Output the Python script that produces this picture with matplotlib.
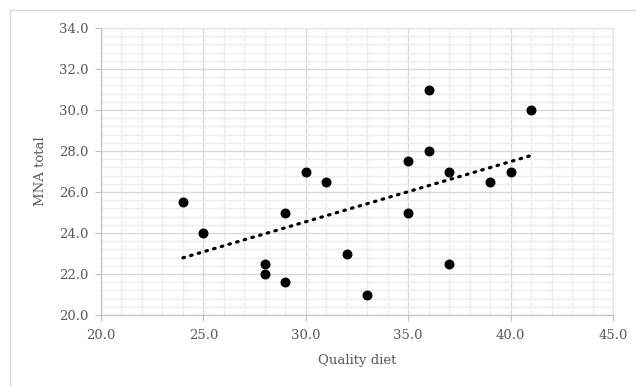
import numpy as np
import matplotlib.pyplot as plt
from matplotlib.patches import Rectangle
from matplotlib.ticker import MultipleLocator, FormatStrFormatter

# values
quality_diet = [24, 25, 28, 28, 29, 29, 30, 31, 32, 33, 35, 35, 36, 36, 37, 37, 39, 40, 41]
mna_total = [25.5, 24.0, 22.5, 22.0, 25.0, 21.6, 27.0, 26.5, 23.0, 21.0,
             27.5, 25.0, 31.0, 28.0, 27.0, 22.5, 26.5, 27.0, 30.0]

plt.rcParams['font.family'] = ['DejaVu Serif']

fig = plt.figure(figsize=(6.36, 3.86), dpi=100)
ax = fig.add_axes([101 / 636, 1 - 315 / 386, 512 / 636, 287 / 386])

# outer chart frame
fig.patches.append(Rectangle((10 / 636, -0.1), 1.2, 1 - 10 / 386 + 0.1,
                             transform=fig.transFigure, fill=False,
                             edgecolor='#d9d9d9', linewidth=1))

ax.set_xlim(20, 45)
ax.set_ylim(20, 34)
ax.xaxis.set_major_locator(MultipleLocator(5))
ax.xaxis.set_minor_locator(MultipleLocator(1))
ax.yaxis.set_major_locator(MultipleLocator(2))
ax.yaxis.set_minor_locator(MultipleLocator(0.4))
ax.xaxis.set_major_formatter(FormatStrFormatter('%.1f'))
ax.yaxis.set_major_formatter(FormatStrFormatter('%.1f'))

ax.grid(which='major', color='#d9d9d9', linewidth=1)
ax.grid(which='minor', color='#eeeeee', linewidth=1)
ax.set_axisbelow(True)

for side in ['top', 'right']:
    ax.spines[side].set_color('#e3e3e3')
for side in ['left', 'bottom']:
    ax.spines[side].set_color('#bfbfbf')

ax.tick_params(which='major', length=4, color='#bfbfbf', labelsize=9.5,
               labelcolor='#595959')
ax.tick_params(axis='y', pad=5)
ax.tick_params(axis='x', pad=6)
ax.tick_params(which='minor', length=0)

# scatter points
ax.scatter(quality_diet, mna_total, s=38, color='black', zorder=3)

# linear trendline
slope, intercept = np.polyfit(quality_diet, mna_total, 1)
xs = np.array([min(quality_diet), max(quality_diet)])
ax.plot(xs, slope * xs + intercept, color='black', linewidth=2.3,
        linestyle=(0, (0.5, 2.0)), dash_capstyle='round', zorder=3)

ax.set_xlabel('Quality diet', fontsize=9.5, color='#595959', labelpad=9)
ax.set_ylabel('MNA total', fontsize=9.5, color='#595959', labelpad=9)

fig.savefig('out.png', dpi=100)
